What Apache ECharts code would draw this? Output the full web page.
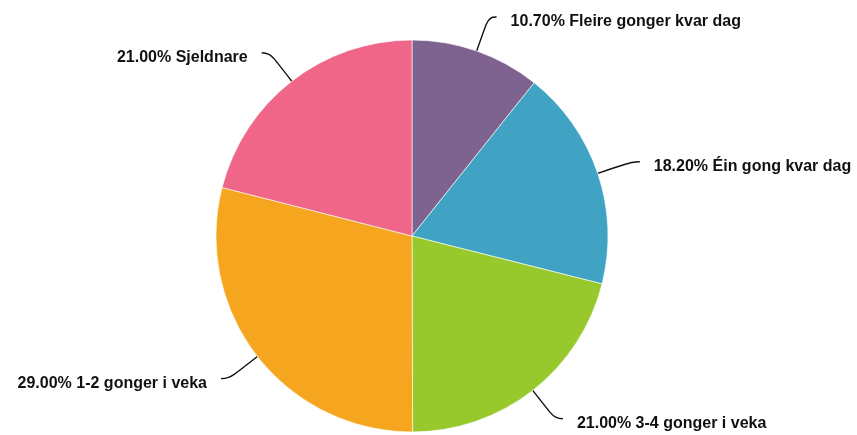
<!DOCTYPE html>
<html>
<head>
<meta charset="utf-8">
<script src="https://cdn.jsdelivr.net/npm/echarts@6/dist/echarts.min.js"></script>
<style>
html,body{margin:0;padding:0;background:#fff;}
#chart{width:857px;height:435px;}
</style>
</head>
<body>
<div id="chart"></div>
<script>
// Share of respondents by frequency
const categories = ['Fleire gonger kvar dag', 'Éin gong kvar dag', '3-4 gonger i veka', '1-2 gonger i veka', 'Sjeldnare'];
const shares = [10.7, 18.2, 21.0, 29.0, 21.0];
const colors = ['#7e6290', '#41a3c4', '#97c92c', '#f5a51e', '#ef6689'];

const chart = echarts.init(document.getElementById('chart'), null, { renderer: 'canvas' });
chart.setOption({
  animation: false,
  series: [{
    type: 'pie',
    center: [412, 236],
    radius: [0, 196],
    startAngle: 90,
    clockwise: true,
    data: categories.map((name, i) => ({
      name,
      value: shares[i],
      itemStyle: { color: colors[i] }
    })),
    itemStyle: { borderColor: 'rgba(255,255,255,0.6)', borderWidth: 1 },
    label: {
      show: true,
      formatter: p => '{t|' + p.value.toFixed(2) + '% ' + p.name + '}',
      overflow: 'none',
      distanceToLabelLine: 14,
      rich: {
        t: {
          color: '#111',
          fontFamily: 'Liberation Sans, Arial, sans-serif',
          fontWeight: 'bold',
          fontSize: 16,
          padding: [9, 0, 0, 0]
        }
      }
    },
    labelLine: {
      show: true,
      length: 36,
      length2: 8,
      smooth: 0.5,
      lineStyle: { color: '#111', width: 1.4 }
    },
    emphasis: { disabled: true }
  }]
});
</script>
</body>
</html>
